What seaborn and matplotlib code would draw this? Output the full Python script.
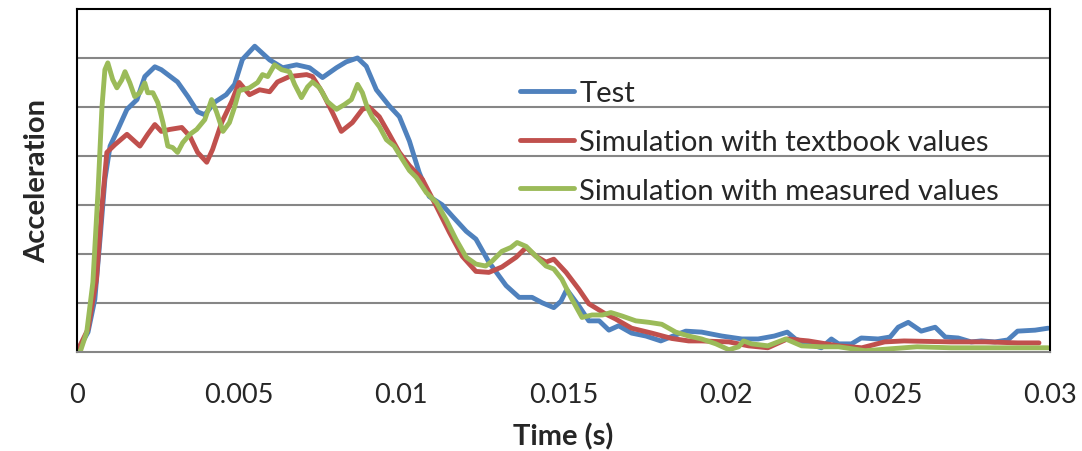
import pandas as pd
import seaborn as sns
import matplotlib.pyplot as plt

# Curves (time in s, acceleration in grid units)
test_t = [0, 0.34, 0.55, 0.71, 0.86, 1.02, 1.26, 1.54, 1.85, 2.09, 2.4, 2.6, 2.8, 3.1, 3.42, 3.72,
          3.94, 4.25, 4.6, 4.86, 5.1, 5.48, 5.94, 6.34, 6.77, 7.17, 7.57, 8.0, 8.3, 8.65, 8.92,
          9.23, 9.63, 9.94, 10.25, 10.55, 10.86, 11.26, 11.57, 12.0, 12.3, 12.7, 13.23, 13.63,
          14.03, 14.34, 14.7, 14.92, 15.1, 15.48, 15.78, 16.1, 16.4, 16.7, 17.1, 17.54, 18.0,
          18.3, 18.77, 19.26, 19.88, 20.5, 21.0, 21.5, 21.9, 22.15, 22.55, 22.95, 23.26, 23.48,
          23.88, 24.18, 24.7, 25.07, 25.32, 25.63, 26.03, 26.46, 26.77, 27.17, 27.57, 27.88,
          28.3, 28.7, 29.0, 29.54, 29.94]
test_a = [0, 0.4, 1.07, 2.3, 3.52, 4.2, 4.54, 4.95, 5.15, 5.62, 5.82, 5.76, 5.66, 5.51, 5.21, 4.9,
          4.84, 5.1, 5.25, 5.46, 5.97, 6.24, 5.96, 5.8, 5.86, 5.8, 5.6, 5.8, 5.92, 6.0, 5.83,
          5.35, 5.02, 4.8, 4.3, 3.66, 3.17, 3.0, 2.77, 2.46, 2.3, 1.83, 1.35, 1.11,
          1.11, 1.0, 0.9, 1.03, 1.27, 0.93, 0.63, 0.63, 0.44, 0.53, 0.38, 0.32, 0.22,
          0.3, 0.42, 0.4, 0.32, 0.26, 0.26, 0.32, 0.4, 0.26, 0.16, 0.08, 0.26, 0.16,
          0.16, 0.28, 0.26, 0.3, 0.5, 0.6, 0.42, 0.5, 0.3, 0.28, 0.2, 0.22,
          0.2, 0.24, 0.42, 0.44, 0.48]

textbook_t = [0, 0.34, 0.6, 0.77, 0.92, 1.17, 1.54, 1.94, 2.18, 2.4, 2.6, 2.86, 3.23, 3.48, 3.72,
              4.0, 4.18, 4.46, 4.77, 5.0, 5.32, 5.63, 5.94, 6.18, 6.55, 7.08, 7.26, 7.57, 7.88,
              8.15, 8.49, 8.8, 9.0, 9.32, 9.63, 9.94, 10.25, 10.65, 11.08, 11.48, 11.88, 12.3,
              12.7, 13.1, 13.54, 13.85, 14.15, 14.46, 14.7, 15.08, 15.48, 15.78, 16.3, 16.6,
              17.1, 17.72, 18.34, 18.86, 19.26, 20.1, 20.7, 21.3, 21.9, 22.55, 23.1, 23.48,
              24.2, 24.9, 25.5, 26.95, 28.0, 29.0, 29.66]
textbook_a = [0, 0.46, 1.48, 2.97, 4.07, 4.23, 4.44, 4.2, 4.44, 4.64, 4.5, 4.54, 4.58, 4.4, 4.07,
              3.87, 4.13, 4.68, 5.11, 5.5, 5.25, 5.35, 5.31, 5.51, 5.62, 5.66, 5.62, 5.29, 4.88,
              4.5, 4.68, 4.95, 5.0, 4.8, 4.44, 4.07, 3.8, 3.52, 2.97, 2.44, 1.95, 1.64,
              1.62, 1.73, 1.93, 2.13, 1.95, 1.83, 1.89, 1.62, 1.27, 0.98, 0.77, 0.67,
              0.48, 0.38, 0.27, 0.22, 0.22, 0.2, 0.12, 0.08, 0.26, 0.22, 0.16, 0.12,
              0.08, 0.2, 0.22, 0.2, 0.2, 0.18, 0.18]

measured_t = [0, 0.1, 0.3, 0.49, 0.65, 0.77, 0.86, 0.95, 1.1, 1.23, 1.38, 1.48, 1.63, 1.78, 1.94,
              2.09, 2.18, 2.34, 2.49, 2.65, 2.8, 2.95, 3.1, 3.26, 3.48, 3.69, 3.94, 4.15, 4.3,
              4.5, 4.7, 4.86, 5.0, 5.32, 5.57, 5.72, 5.88, 6.09, 6.31, 6.55, 6.71, 6.92, 7.11,
              7.26, 7.48, 7.72, 8.0, 8.25, 8.46, 8.65, 8.8, 8.95, 9.11, 9.32, 9.54, 9.78, 10.03,
              10.25, 10.46, 10.77, 11.08, 11.38, 11.69, 12.0, 12.3, 12.6, 12.8, 13.1, 13.38,
              13.57, 13.85, 14.15, 14.46, 14.7, 14.95, 15.26, 15.57, 15.88, 16.2, 16.46, 16.8,
              17.23, 17.63, 18.03, 18.46, 18.86, 19.26, 19.7, 20.1, 20.4, 20.55, 20.8, 21.3,
              21.85, 22.34, 22.95, 23.48, 24.3, 24.9, 25.9, 26.95, 28.0, 29.0, 29.94]
measured_a = [0, 0, 0.4, 1.42, 3.3, 5.0, 5.76, 5.9, 5.56, 5.39, 5.55, 5.72, 5.49, 5.21, 5.29,
              5.49, 5.29, 5.29, 5.09, 4.68, 4.2, 4.17, 4.07, 4.27, 4.44, 4.54, 4.74, 5.15, 4.9,
              4.5, 4.68, 5.0, 5.33, 5.39, 5.5, 5.66, 5.62, 5.86, 5.76, 5.72, 5.46, 5.19, 5.41,
              5.51, 5.39, 5.11, 4.95, 5.05, 5.15, 5.46, 5.29, 4.99, 4.78, 4.6, 4.33, 4.2, 3.93,
              3.7, 3.56, 3.25, 3.05, 2.7, 2.29, 1.93, 1.79, 1.75, 1.85, 2.05, 2.13,
              2.23, 2.15, 1.95, 1.75, 1.69, 1.48, 1.07, 0.7, 0.75, 0.75, 0.8, 0.73,
              0.63, 0.6, 0.56, 0.4, 0.32, 0.26, 0.16, 0.04, 0.1, 0.22, 0.16, 0.12,
              0.26, 0.12, 0.1, 0.1, 0.02, 0.05, 0.1, 0.08, 0.08, 0.08, 0.08]

labels = ['Test', 'Simulation with textbook values', 'Simulation with measured values']
colors = ['#4F81BD', '#C0504D', '#9BBB59']
xticks = [0, 0.005, 0.01, 0.015, 0.02, 0.025, 0.03]
xticklabels = ['0', '0.005', '0.01', '0.015', '0.02', '0.025', '0.03']

frames = []
for name, t, a in zip(labels, [test_t, textbook_t, measured_t], [test_a, textbook_a, measured_a]):
    frames.append(pd.DataFrame({'time': [v / 1000 for v in t], 'acc': a, 'series': name}))
df = pd.concat(frames, ignore_index=True)

sns.set_style('white')
plt.rcParams['font.family'] = ['Lato', 'DejaVu Sans']

fig = plt.figure(figsize=(10.82, 4.52), dpi=100)
ax = fig.add_axes([77 / 1082, 1 - 352.7 / 452, 973 / 1082, 342.7 / 452])

sns.lineplot(data=df, x='time', y='acc', hue='series', palette=colors, hue_order=labels,
             estimator=None, sort=False, linewidth=3.5, ax=ax,
             solid_joinstyle='round', solid_capstyle='round')

ax.set_xlim(0, 0.03)
ax.set_ylim(0, 7)
ax.set_yticks([1, 2, 3, 4, 5, 6])
ax.set_yticklabels([])
ax.yaxis.grid(True, color='#868686', linewidth=1.5)
ax.set_axisbelow(True)
ax.tick_params(axis='both', length=0)
ax.tick_params(axis='x', labelsize=19.5, pad=22)
ax.set_xticks(xticks)
ax.set_xticklabels(xticklabels)

for side in ['top', 'left', 'right']:
    ax.spines[side].set_color('black')
    ax.spines[side].set_linewidth(1.5)
ax.spines['bottom'].set_color('#868686')
ax.spines['bottom'].set_linewidth(1.5)

ax.set_xlabel('Time (s)', fontsize=21, fontweight='bold', labelpad=11)
ax.set_ylabel('Acceleration', fontsize=21, fontweight='bold', labelpad=16)

ax.legend(loc='upper left', bbox_to_anchor=(0.44, 0.835), frameon=False, fontsize=21,
          handlelength=1.85, handletextpad=0.2, labelspacing=0.78, borderpad=0)

fig.savefig('out.png', dpi=100)
